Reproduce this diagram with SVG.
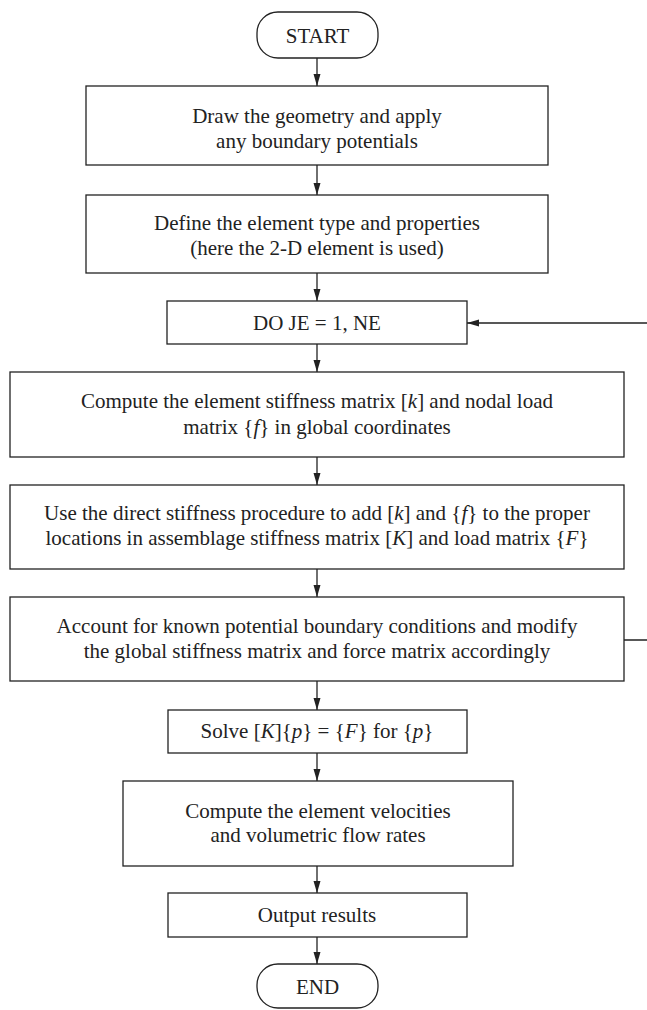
<svg xmlns="http://www.w3.org/2000/svg" width="647" height="1010" viewBox="0 0 647 1010">
<defs>
<style>
.b{fill:#fff;stroke:#222;stroke-width:1.3}
.t{font-family:"Liberation Serif","Times New Roman",serif;font-size:21px;fill:#222;text-anchor:middle}
.i{font-style:italic}
.c{fill:none;stroke:#222;stroke-width:1.3}
</style>
<marker id="ah" markerUnits="userSpaceOnUse" markerWidth="13" markerHeight="8" refX="12" refY="3.5" orient="auto">
<path d="M0,0 L12,3.5 L0,7 z" fill="#222"/>
</marker>
</defs>
<rect width="647" height="1010" fill="#fff"/>
<g id="connectors">
<line class="c" x1="317" y1="58" x2="317" y2="86" marker-end="url(#ah)"/>
<line class="c" x1="317" y1="165" x2="317" y2="195" marker-end="url(#ah)"/>
<line class="c" x1="317" y1="273" x2="317" y2="301" marker-end="url(#ah)"/>
<line class="c" x1="317" y1="344" x2="317" y2="372" marker-end="url(#ah)"/>
<line class="c" x1="317" y1="457" x2="317" y2="485" marker-end="url(#ah)"/>
<line class="c" x1="317" y1="569" x2="317" y2="597" marker-end="url(#ah)"/>
<line class="c" x1="317" y1="681" x2="317" y2="710" marker-end="url(#ah)"/>
<line class="c" x1="317" y1="753" x2="317" y2="781" marker-end="url(#ah)"/>
<line class="c" x1="317" y1="866" x2="317" y2="893" marker-end="url(#ah)"/>
<line class="c" x1="317" y1="937" x2="317" y2="964" marker-end="url(#ah)"/>
<path class="c" d="M624,640 H652 V323 H467" marker-end="url(#ah)"/>
</g>
<g id="start">
<rect class="b" x="257" y="12" width="121" height="46" rx="21" ry="21"/>
<text class="t" x="317.5" y="43">START</text>
</g>
<g id="geometry">
<rect class="b" x="86" y="86" width="462" height="79"/>
<text class="t" x="317" y="123">Draw the geometry and apply</text>
<text class="t" x="317" y="148">any boundary potentials</text>
</g>
<g id="element-type">
<rect class="b" x="86" y="195" width="462" height="78"/>
<text class="t" x="317" y="230">Define the element type and properties</text>
<text class="t" x="317" y="255">(here the 2-D element is used)</text>
</g>
<g id="do-loop">
<rect class="b" x="167" y="301" width="300" height="43"/>
<text class="t" x="317" y="330">DO JE = 1, NE</text>
</g>
<g id="compute-stiffness">
<rect class="b" x="10" y="372" width="614" height="85"/>
<text class="t" x="317" y="408">Compute the element stiffness matrix [<tspan class="i">k</tspan>] and nodal load</text>
<text class="t" x="317" y="434">matrix {<tspan class="i">f</tspan>} in global coordinates</text>
</g>
<g id="assemble">
<rect class="b" x="10" y="485" width="614" height="84"/>
<text class="t" x="317" y="520">Use the direct stiffness procedure to add [<tspan class="i">k</tspan>] and {<tspan class="i">f</tspan>} to the proper</text>
<text class="t" x="317" y="545">locations in assemblage stiffness matrix [<tspan class="i">K</tspan>] and load matrix {<tspan class="i">F</tspan>}</text>
</g>
<g id="boundary">
<rect class="b" x="10" y="597" width="614" height="84"/>
<text class="t" x="317" y="633">Account for known potential boundary conditions and modify</text>
<text class="t" x="317" y="658">the global stiffness matrix and force matrix accordingly</text>
</g>
<g id="solve">
<rect class="b" x="168" y="710" width="299" height="43"/>
<text class="t" x="317" y="738">Solve [<tspan class="i">K</tspan>]{<tspan class="i">p</tspan>} = {<tspan class="i">F</tspan>} for {<tspan class="i">p</tspan>}</text>
</g>
<g id="velocities">
<rect class="b" x="123" y="781" width="390" height="85"/>
<text class="t" x="318" y="818">Compute the element velocities</text>
<text class="t" x="318" y="842">and volumetric flow rates</text>
</g>
<g id="output">
<rect class="b" x="168" y="893" width="299" height="44"/>
<text class="t" x="317" y="922">Output results</text>
</g>
<g id="end">
<rect class="b" x="257" y="964" width="121" height="44" rx="21" ry="21"/>
<text class="t" x="317.5" y="994">END</text>
</g>
</svg>
